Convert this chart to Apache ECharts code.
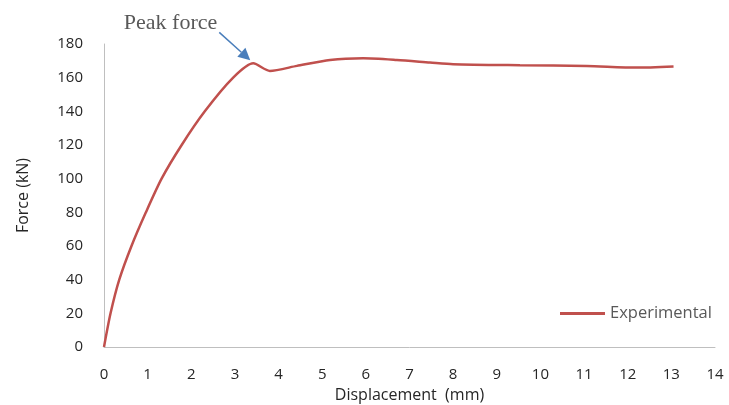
<!DOCTYPE html>
<html>
<head>
<meta charset="utf-8">
<script src="https://cdn.jsdelivr.net/npm/echarts@6/dist/echarts.min.js"></script>
<style>html,body{margin:0;padding:0;background:#fff;}#c{width:729px;height:405px;}</style>
</head>
<body>
<div id="c"></div>
<script>
const seriesName = 'Experimental';
const displacement = [0, 0.15, 0.35, 0.63, 0.96, 1.32, 1.78, 2.31, 2.96, 3.42, 3.80, 4.42, 5.18, 5.94, 6.71, 7.47, 8.0, 9.53, 11.06, 12.2, 13.05];
const force = [0, 20, 40, 60, 80, 100, 120, 140, 160, 168.5, 164, 167, 170.5, 171.5, 170.5, 169, 168, 167.4, 167, 166, 166.7];
const peakIndex = 9;
const annotationText = 'Peak force';

const chart = echarts.init(document.getElementById('c'));
const font = '"Open Sans", "Liberation Sans", sans-serif';
chart.setOption({
  animation: false,
  grid: {left: 104, right: 14, top: 44, bottom: 58, containLabel: false, outerBoundsMode: 'none'},
  legend: {
    data: [seriesName], left: 555, top: 300, icon: 'rect', itemWidth: 45, itemHeight: 3, itemGap: 4,
    textStyle: {color: '#595959', fontSize: 16.5, fontFamily: font}
  },
  xAxis: {
    type: 'value', min: 0, max: 14, interval: 1,
    name: 'Displacement  (mm)', nameLocation: 'middle', nameGap: 40,
    nameTextStyle: {color: '#262626', fontSize: 16, fontFamily: font},
    axisLine: {lineStyle: {color: '#bfbfbf', width: 1}},
    axisTick: {show: false}, splitLine: {show: false},
    axisLabel: {color: '#262626', fontSize: 15, fontFamily: font, margin: 20}
  },
  yAxis: {
    type: 'value', min: 0, max: 180, interval: 20,
    name: 'Force (kN)', nameLocation: 'middle', nameGap: 73, nameRotate: 90,
    nameTextStyle: {color: '#262626', fontSize: 16, fontFamily: font},
    axisLine: {show: true, lineStyle: {color: '#bfbfbf', width: 1}},
    axisTick: {show: false}, splitLine: {show: false},
    axisLabel: {color: '#262626', fontSize: 15, fontFamily: font, margin: 21}
  },
  series: [{
    name: seriesName, type: 'line', smooth: 0.25, showSymbol: false,
    data: displacement.map((x, i) => [x, force[i]]),
    lineStyle: {color: '#c0504d', width: 2.5}, itemStyle: {color: '#c0504d'}
  }]
});

const p = chart.convertToPixel({gridIndex: 0}, [displacement[peakIndex], force[peakIndex]]);
const tip = [p[0] - 3, p[1] - 3];
const tail = [p[0] - 34, p[1] - 31];
const ang = Math.atan2(tip[1] - tail[1], tip[0] - tail[0]);
const L = 12, W = 6;
const base = [tip[0] - L * Math.cos(ang), tip[1] - L * Math.sin(ang)];
const nx = -Math.sin(ang), ny = Math.cos(ang);
chart.setOption({
  graphic: [
    {type: 'line', shape: {x1: tail[0], y1: tail[1], x2: base[0], y2: base[1]}, style: {stroke: '#4a7ebb', lineWidth: 1.5}},
    {type: 'polygon', shape: {points: [tip, [base[0] + nx * W, base[1] + ny * W], [base[0] - nx * W, base[1] - ny * W]]}, style: {fill: '#4a7ebb'}},
    {type: 'text', x: tail[0] - 2, y: tail[1] - 9, style: {text: annotationText, fill: '#595959', font: '22px "Liberation Serif", "DejaVu Serif", serif', textAlign: 'right', textVerticalAlign: 'middle'}}
  ]
});
</script>
</body>
</html>
